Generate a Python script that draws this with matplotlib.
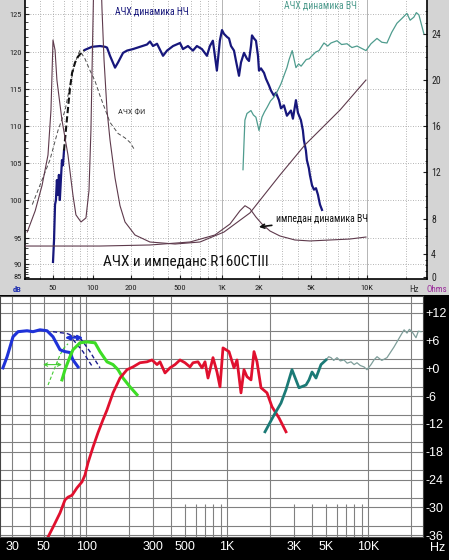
import numpy as np
import matplotlib
matplotlib.use('Agg')
import matplotlib.pyplot as plt
from matplotlib.patches import Rectangle
from matplotlib import font_manager

plt.rcParams['font.family'] = ['Liberation Sans', 'DejaVu Sans']
have_cond = 'Roboto Condensed' in {f.name for f in font_manager.fontManager.ttflist}
NARROW = ['Roboto Condensed', 'DejaVu Sans'] if have_cond else ['Liberation Sans', 'DejaVu Sans']
print('condensed font:', have_cond)

# ---------------- upper chart: SPL (dB) + impedance (Ohms) ----------------
# woofer response, bottom spike, dashed join, main part
nch_low_hz = [50.0, 50.9, 51.8, 52.6, 53.5, 54.4, 55.4, 56.3, 57.3, 58.4, 59.4, 60.5]
nch_low_db = [90.4, 94.6, 99.4, 100.0, 102.7, 100.7, 103.4, 100.0, 102.7, 105.4, 104.7, 106.7]
nch_dash_hz = [60.5, 63.7, 67.1, 69.6, 73.3, 77.2, 82.6, 87.0]
nch_dash_db = [106.7, 111.0, 115.1, 117.2, 118.6, 119.4, 120.0, 120.3]
nch_hz = [87.0, 98.3, 113.6, 124.5, 129.1, 136.4, 149.5, 157.9, 173.0, 186.1,
          207.6, 236.8, 269.8, 285.3, 301.8, 325.4, 364.0, 392.4, 439.0, 500,
          525, 570, 619, 661, 718, 780, 819, 860, 919, 965, 1000,
          1038, 1098, 1140, 1184, 1252, 1300, 1375, 1427, 1510, 1597,
          1658, 1721, 1754, 1820, 1890, 1962, 2000, 2071, 2184, 2261,
          2384, 2470, 2603, 2696, 2843, 2945, 3104, 3271, 3510, 3636,
          3834, 3971, 4186, 4335, 4412, 4570, 4651, 4817, 4903, 5062,
          5188, 5318, 5452, 5521, 5589, 5730]
nch_db = [120.3, 120.7, 120.8, 120.7, 120.6, 119.5, 117.9, 118.6, 119.9, 120.2,
          120.4, 120.7, 121.0, 121.4, 120.8, 121.1, 119.5, 120.2, 120.8, 121.2,
          120.4, 120.8, 120.2, 120.8, 120.4, 119.5, 120.8, 121.5, 117.5, 121.5, 122.9,
          122.4, 122.0, 121.8, 120.8, 120.2, 118.8, 116.8, 118.6, 119.9, 119.1,
          118.8, 120.8, 122.2, 121.8, 121.5, 119.5, 117.5, 117.8, 117.2, 116.4,
          115.5, 114.8, 114.1, 114.5, 113.5, 112.4, 112.8, 111.4, 112.1, 111.0,
          113.5, 111.8, 110.8, 109.4, 108.1, 106.7, 105.4, 104.3, 103.4, 102.0,
          101.4, 101.6, 100.7, 100.0, 99.4, 98.7]

# port response (thin dashed)
port_hz = [35.1, 40.0, 47.4, 54.5, 61.6, 67.1, 73.3, 79.6, 87.0, 95.0,
           103.7, 113.6, 136.4, 157.9, 179.3, 196.3, 215.5]
port_db = [99.4, 102.0, 105.4, 109.4, 112.1, 115.5, 118.6, 120.2, 119.1, 117.5,
           116.1, 114.1, 110.5, 109.0, 108.4, 107.8, 106.7]

# tweeter response
vch_hz = [1482, 1510, 1536, 1596, 1720, 1800, 1888, 2000, 2107, 2200, 2302, 2450, 2602,
          2780, 2944, 3102, 3271, 3400, 3526, 3590, 3835, 4022, 4200, 4417, 4600, 4850, 5062,
          5300, 5520, 5870, 6150, 6404, 6900, 7300, 7810, 8300, 8836, 9875, 10733, 11936, 13000, 14250,
          15500, 17010, 18500, 20300, 21500, 22970, 24000, 25120, 27440]
vch_db = [104.1, 107.7, 110.8, 111.7, 112.1, 111.5, 111.2, 109.4, 111.2, 111.9, 112.5, 113.4, 113.9,
          114.8, 115.7, 116.8, 117.9, 119.0, 119.8, 120.2, 117.9, 118.4, 118.1, 118.6, 119.0, 119.1, 119.5,
          120.0, 120.2, 121.2, 120.8, 121.2, 121.5, 121.0, 121.1, 120.6, 120.8, 120.2, 121.1, 121.8, 121.3, 121.2,
          122.6, 123.8, 124.4, 125.1, 124.2, 124.6, 125.2, 124.9, 122.4]

# impedance, woofer and tweeter (Ohms)
z_nch_hz = [32.2, 36.9, 41.5, 45.9, 48.3, 50.0, 51.8, 53.5, 58.4, 64.8,
            70.7, 74.4, 81.2, 88.5, 93.3, 96.5, 99.0, 100.9, 107.6, 117.9,
            122.3, 129.1, 136.4, 149.5, 163.7, 179.3, 215.5, 285, 456, 695,
            1038, 1689, 2892, 4489, 7160, 9875]
z_nch_ohm = [6.51, 8.70, 10.87, 13.48, 17.39, 23.48, 22.61, 20.0, 16.52, 13.48,
             10.0, 8.35, 7.66, 8.09, 10.43, 15.65, 22.61, 27.39, 40.0, 26.09,
             21.74, 17.39, 14.78, 11.48, 9.13, 7.66, 6.17, 5.37, 5.14, 5.37,
             6.51, 8.52, 11.74, 14.35, 17.39, 20.0]
z_vch_hz = [31, 113.6, 285, 589, 889, 1162, 1400, 1538, 1689, 1888,
            2107, 2427, 2892, 3766, 4911, 6327, 8085, 9875]
z_vch_ohm = [4.91, 4.91, 5.03, 5.37, 6.17, 7.43, 8.70, 9.13, 8.87, 8.17,
             7.43, 6.63, 6.06, 5.6, 5.49, 5.6, 5.71, 5.94]

top_tick_hz = [50, 100, 200, 500, 1000, 2000, 5000, 10000]
top_tick_lab = ['50', '100', '200', '500', '1K', '2K', '5K', '10K']
db_ticks = [85, 90, 95, 100, 105, 110, 115, 120, 125]
ohm_ticks = [0, 4, 8, 12, 16, 20, 24]

# ---------------- lower chart: filtered responses ----------------
b_nch_hz = [25.7, 27.5, 30.3, 32.9, 38.1, 42.0, 47.1, 52.8, 58.2, 65.3, 70.8, 76.8, 80.7, 87.6]
b_nch_db = [0.1, 2.5, 6.8, 7.9, 8.1, 7.9, 8.3, 8.1, 6.8, 4.0, 3.6, 3.4, 1.8, 0.3]
b_nchd1_hz = [58.2, 65.3, 73.2, 80.7, 90.5, 98.2, 106.5, 115.6, 125.4]
b_nchd1_db = [7.9, 7.7, 7.5, 7.0, 6.6, 5.1, 3.6, 1.8, 0.1]
b_nchd2_hz = [80.7, 87.6, 95.0, 103.1, 110.1]
b_nchd2_db = [6.2, 4.9, 3.6, 1.8, 0.5]
b_port_hz = [67.4, 70.8, 76.8, 80.7, 90.5, 101.4, 115.6, 125.4, 140.6, 155.1, 168.3, 182.6, 204.7, 229.5]
b_port_db = [-2.5, -0.3, 2.5, 4.0, 5.5, 5.7, 5.5, 3.6, 1.4, 0.8, -0.3, -2.1, -4.0, -5.7]
b_portd_hz = [53.7, 57.3, 61.2, 65.3, 69.7, 74.4]
b_portd_db = [-3.6, -1.4, 0.8, 2.9, 4.4, 5.3]
b_mid_hz = [49.5, 53.7, 58.2, 65.3, 70.8, 74.4, 79.4, 86.1, 93.5, 98.2,
            103.1, 111.9, 121.4, 131.7, 140.6, 155.1, 173.9, 195.0, 215.0, 241.0,
            270.3, 293.2, 318.2, 334.1, 362.6, 393.4, 426.9, 463.1, 502.5, 545.3,
            572.8, 621.5, 663.4, 696.8, 731.8, 794.0, 847.6, 890.0, 934.7, 1031,
            1119, 1175, 1254, 1317, 1383, 1477, 1551, 1629, 1739, 1918,
            2081, 2333, 2616]
b_mid_db = [-37.7, -36.4, -34.3, -31.2, -28.4, -27.8, -27.4, -25.8, -24.5, -23.0,
            -20.4, -17.0, -13.9, -11.1, -9.0, -5.3, -2.1, -0.3, 0.3, 1.2,
            1.4, 1.8, 0.8, 1.4, -1.0, 0.1, 0.8, 1.8, 1.2, 0.3,
            1.2, 1.4, 0.1, 1.4, -2.1, 2.3, -0.8, -4.0, 4.4, 3.6,
            0.1, 1.8, -5.3, -0.3, -1.8, -2.5, 3.6, 1.4, -4.2, -5.3,
            -8.3, -10.7, -13.7]
b_vch_hz = [1856, 1918, 2150, 2410, 2616, 2884, 3234, 3626, 3808, 4001, 4268, 4631, 5025]
b_vch_db = [-13.7, -12.9, -10.1, -7.5, -4.6, -0.3, -4.2, -3.6, -2.5, -0.8, -2.1, 0.8, 1.8]
b_vchr_hz = [5025, 5250, 5454, 5700, 6015, 6350, 6743, 7100, 7562, 7950, 8338, 8800, 9348, 9818,
             10480, 11000, 11570, 12500, 13610, 15260, 17110, 18000, 18870, 19600, 20470, 21850, 22700, 23720]
b_vchr_db = [1.8, 2.5, 2.3, 1.7, 2.3, 1.6, 1.8, 1.1, 1.4, 0.8, 1.2, 0.6, 0.3, -0.3,
             0.8, 1.8, 2.5, 1.7, 2.3, 4.6, 7.2, 8.3, 7.6, 8.4, 7.9, 6.6, 8.0, 7.9]

bot_tick_hz = [30, 50, 100, 300, 500, 1000, 3000, 5000, 10000]
bot_tick_lab = ['30', '50', '100', '300', '500', '1K', '3K', '5K', '10K']
bot_db_ticks = [12, 6, 0, -6, -12, -18, -24, -30, -36]
bot_db_lab = ['+12', '+6', '+0', '-6', '-12', '-18', '-24', '-30', '-36']
bot_hgrid = [14, 12, 8, 6, 2, 0, -4, -6, -10, -12, -16, -18, -22, -24, -28, -30, -34, -36]
bot_vfull = [30, 40, 50, 70, 80, 90, 100, 200, 300, 400, 1000, 2000, 10000, 20000]
bot_vshort = [500, 600, 700, 800, 900, 3000, 4000, 5000, 6000, 7000, 8000, 9000]

# scale of the scanned upper chart (screen position of the labelled values)
x_knot_log = np.log10([1, 31, 50, 100, 200, 500, 1000, 2000, 5000, 10000, 29000, 1e6])
x_knot_pos = [-178, 25, 53, 93, 131, 180, 222, 259, 311, 367, 427, 627]
db_knot = [60, 85, 90, 95, 100, 105, 110, 115, 120, 125, 150]
db_pos = [-63, 2, 15, 41, 79, 116, 153, 190, 227, 265, 451]
ohm_knot = [-10, 0, 4, 8, 12, 16, 20, 24, 60]
ohm_pos = [-55.5, 2, 25, 60, 107, 153, 199, 245, 659]


def fx(f):
    return np.interp(np.log10(np.clip(f, 1e-6, None)), x_knot_log, x_knot_pos)


def fx_inv(p):
    return 10 ** np.interp(p, x_knot_pos, x_knot_log)


def fdb(v):
    return np.interp(v, db_knot, db_pos)


def fdb_inv(p):
    return np.interp(p, db_pos, db_knot)


def fohm(v):
    return np.interp(v, ohm_knot, ohm_pos)


def fohm_inv(p):
    return np.interp(p, ohm_pos, ohm_knot)


W, H = 449, 560
fig = plt.figure(figsize=(W / 100, H / 100), dpi=100, facecolor='#d4d4d4')


def px_box(x0, y0, x1, y1):
    return [x0 / W, 1 - y1 / H, (x1 - x0) / W, (y1 - y0) / H]


fig.add_artist(Rectangle((0, 0), 1, 1 - 295 / H, transform=fig.transFigure,
                         facecolor='black', edgecolor='none', zorder=-1))

NAVY = '#17177c'
TEAL = '#4f9c8e'
ZCOL = '#5e3a4c'

# ---- upper
ax1 = fig.add_axes(px_box(25, 0, 427, 279))
ax1.set_facecolor('white')
ax1.set_xscale('function', functions=(fx, fx_inv))
ax1.set_yscale('function', functions=(fdb, fdb_inv))
ax1.set_xlim(31, 29000)
ax1.set_ylim(84.23, 126.9)

grid_hz = [40, 50, 60, 70, 80, 90, 100, 200, 300, 400, 500, 600, 700, 800, 900,
           2000, 3000, 4000, 5000, 6000, 7000, 8000, 9000, 20000]
for f in grid_hz:
    ax1.axvline(f, color='#9c9c9c', lw=0.6, ls=(0, (1, 2)), zorder=0)
for f in [1000, 10000]:
    ax1.axvline(f, color='#b4b4b4', lw=0.7, zorder=0)
for d in db_ticks[1:]:
    ax1.axhline(d, color='#9c9c9c', lw=0.6, ls=(0, (1, 2)), zorder=0)

ax1.plot(port_hz, port_db, color='#505050', lw=0.7, ls=(0, (4, 2.5)))
ax1.plot(nch_low_hz, nch_low_db, color=NAVY, lw=1.6)
ax1.plot(nch_dash_hz, nch_dash_db, color='#111111', lw=1.5, ls=(0, (3, 1.5)))
ax1.plot(nch_hz, nch_db, color=NAVY, lw=1.6)
ax1.plot(vch_hz, vch_db, color=TEAL, lw=0.9)

ax1.spines['top'].set_visible(False)
ax1.spines['right'].set_visible(False)
ax1.spines['left'].set_linewidth(1.2)
ax1.spines['bottom'].set_linewidth(1.2)
ax1.set_xticks(top_tick_hz, labels=top_tick_lab)
ax1.set_xticks(grid_hz + [1000, 10000], minor=True)
ax1.set_yticks(db_ticks, labels=[str(d) for d in db_ticks])
ax1.set_yticks(np.arange(85, 127), minor=True)
ax1.yaxis.set_minor_formatter(plt.NullFormatter())
ax1.xaxis.set_minor_formatter(plt.NullFormatter())
ax1.tick_params(which='both', direction='in', colors='#222222', labelsize=6)
ax1.tick_params(which='major', length=3)
ax1.tick_params(which='minor', length=1.8)
ax1.tick_params(axis='x', pad=4)
ax1.tick_params(axis='y', pad=2)
for lab in ax1.get_xticklabels() + ax1.get_yticklabels():
    lab.set_family(NARROW)

axr = ax1.twinx()
axr.set_yscale('function', functions=(fohm, fohm_inv))
axr.set_ylim(-0.35, 26.96)
axr.plot(z_nch_hz, z_nch_ohm, color=ZCOL, lw=0.8)
axr.plot(z_vch_hz, z_vch_ohm, color=ZCOL, lw=0.8)
for s in ['top', 'left', 'bottom']:
    axr.spines[s].set_visible(False)
axr.spines['right'].set_linewidth(1.2)
axr.set_yticks(ohm_ticks, labels=[str(o) for o in ohm_ticks])
axr.set_yticks(np.arange(0, 27), minor=True)
axr.yaxis.set_minor_formatter(plt.NullFormatter())
axr.tick_params(which='both', direction='in', colors='#222222', labelsize=7, pad=3)
axr.tick_params(which='major', length=3)
axr.tick_params(which='minor', length=1.8)
for lab in axr.get_yticklabels():
    lab.set_family(NARROW)

small = 7 if have_cond else 6.2
ax1.text(296, 125.3, 'АЧХ динамика НЧ', color=NAVY, fontsize=small, family=NARROW,
         ha='center', va='center')
ax1.text(5592, 126.2, 'АЧХ динамика ВЧ', color=TEAL, fontsize=small, family=NARROW,
         ha='center', va='center')
ax1.text(158, 111.8, 'АЧХ ФИ', color='#333333', fontsize=small - 1, family=NARROW,
         ha='left', va='center')
ax1.text(120, 90.4, 'АЧХ и импеданс R160CTIII', color='#111111',
         fontsize=11 if have_cond else 9.8, family=NARROW, ha='left', va='center')
axr.annotate('импедан динамика ВЧ', xy=(2000, 7.09), xytext=(2697, 8.0),
             fontsize=small, family=NARROW, color='#111111', va='center', ha='left',
             arrowprops=dict(arrowstyle='->', color='#111111', lw=1.2,
                             shrinkA=1, shrinkB=0))

fig.text(17 / W, 1 - 289 / H, 'dB', color='#2030b0', fontsize=6, fontweight='bold',
         ha='center', va='center', family=NARROW)
fig.text(414 / W, 1 - 289 / H, 'Hz', color='#333333', fontsize=6.5,
         ha='center', va='center', family=NARROW)
fig.text(437 / W, 1 - 289 / H, 'Ohms', color='#9a2a9a', fontsize=6.5,
         ha='center', va='center', family=NARROW)

# ---- lower
ax2 = fig.add_axes(px_box(0, 296, 423, 537))
ax2.set_facecolor('white')
ax2.set_xscale('log')
ax2.set_xlim(24.5, 24500)
ax2.set_ylim(-36.4, 15.6)
GRID2 = '#808080'
ax2.hlines(bot_hgrid, 24.5, 24500, color=GRID2, lw=0.8, zorder=0)
ax2.vlines(bot_vfull, -36.4, 15.6, color=GRID2, lw=0.8, zorder=0)
ax2.vlines(bot_vshort, -36.4, -29.2, color=GRID2, lw=0.8, zorder=0)

ax2.plot(b_nchd1_hz, b_nchd1_db, color='#1a1a8c', lw=1.0, ls=(0, (3, 2)))
ax2.plot(b_nchd2_hz, b_nchd2_db, color='#1a1a8c', lw=1.0, ls=(0, (3, 2)))
ax2.plot(b_portd_hz, b_portd_db, color='#44cc33', lw=0.8, ls=(0, (3, 2)))
ax2.plot(b_nch_hz, b_nch_db, color='#1f32d8', lw=2.2)
ax2.plot(b_port_hz, b_port_db, color='#3ddd25', lw=2.2)
ax2.plot(b_mid_hz, b_mid_db, color='#e0102e', lw=2.0)
ax2.plot(b_vchr_hz, b_vchr_db, color='#7e9e9a', lw=0.9)
ax2.plot(b_vch_hz, b_vch_db, color='#1b7a76', lw=2.0)
ax2.annotate('', xy=(95.0, 6.6), xytext=(70.8, 6.6),
             arrowprops=dict(arrowstyle='<|-|>', color='#1f32d8', lw=1.4,
                             mutation_scale=7, shrinkA=0, shrinkB=0))
ax2.annotate('', xy=(67.4, 0.8), xytext=(49.5, 0.8),
             arrowprops=dict(arrowstyle='<->', color='#44cc33', lw=0.8,
                             mutation_scale=6, shrinkA=0, shrinkB=0))

for s in ax2.spines.values():
    s.set_color('#444444')
    s.set_linewidth(0.8)
ax2.yaxis.tick_right()
ax2.set_yticks(bot_db_ticks, labels=bot_db_lab)
ax2.set_xticks(bot_tick_hz, labels=bot_tick_lab)
ax2.set_xticks([], minor=True)
ax2.tick_params(axis='y', length=0, pad=2, labelsize=9, labelcolor='white')
ax2.tick_params(axis='x', length=0, pad=3, labelsize=9, labelcolor='white')
fig.text(430 / W, 1 - 548 / H, 'Hz', color='white', fontsize=9, va='center')

fig.savefig('out.png', dpi=100, facecolor=fig.get_facecolor())
